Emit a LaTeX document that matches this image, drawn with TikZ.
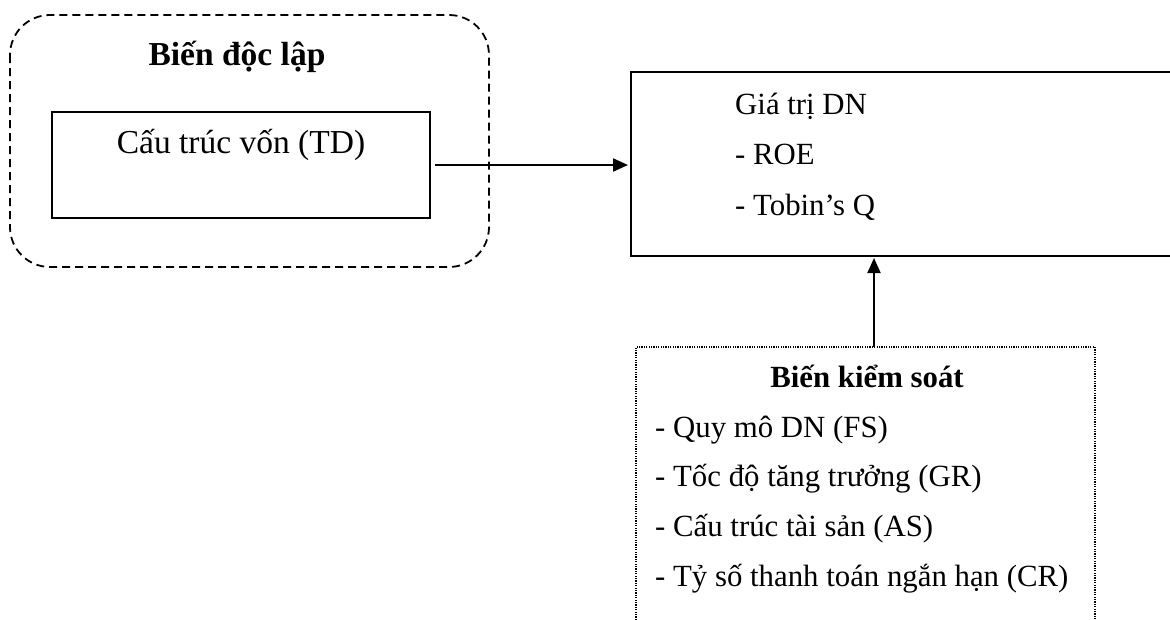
\documentclass[tikz,border=0pt]{standalone}
\usepackage{fontspec}
\setmainfont{Liberation Serif}
\usetikzlibrary{arrows.meta}
\tikzset{
  txt/.style={inner sep=0pt, anchor=base, font=\fontsize{33.5}{40}\selectfont},
  txts/.style={inner sep=0pt, anchor=base, font=\fontsize{30.8}{37}\selectfont},
  txtl/.style={txts, anchor=base west},
  boxs/.style={draw, line width=2pt, inner sep=0pt},
  dashbox/.style={draw, line width=1.8pt, dash pattern=on 8pt off 5pt, rounded corners=40pt},
  dotbox/.style={draw, line width=1.3pt, dash pattern=on 1.2pt off 1.2pt, inner sep=0pt},
  arr/.style={line width=2pt, -{Triangle[length=15pt,width=13pt]}}
}
\begin{document}
\begin{tikzpicture}[x=1pt,y=-1pt]
\useasboundingbox (0,0) rectangle (1170,619);
\clip (0,0) rectangle (1170,619);
\fill[white] (0,0) rectangle (1170,619);
% independent variable group
\draw[dashbox] (10,15) rectangle (489,267);
\node[txt, font=\fontsize{33.5}{40}\selectfont\bfseries] (bdl) at (237,65) {Biến độc lập};
\node[boxs, minimum width=378pt, minimum height=106pt] (tdbox) at (241,165) {};
\node[txt] (td) at (241,153) {Cấu trúc vốn (TD)};
% dependent
\node[boxs, minimum width=569pt, minimum height=184pt] (dn) at (915.5,164) {};
\node[txtl] (dn1) at (735,114) {Giá trị DN};
\node[txtl] (dn2) at (735,164) {- ROE};
\node[txtl] (dn3) at (735,215) {- Tobin’s Q};
% control variables
\node[dotbox, minimum width=459pt, minimum height=303pt] (ks) at (865.5,498.5) {};
\node[txts, font=\fontsize{30.8}{37}\selectfont\bfseries] (ksh) at (867,387) {Biến kiểm soát};
\node[txtl] (k1) at (655,437) {- Quy mô DN (FS)};
\node[txtl] (k2) at (655,486) {- Tốc độ tăng trưởng (GR)};
\node[txtl] (k3) at (655,536) {- Cấu trúc tài sản (AS)};
\node[txtl] (k4) at (655,586) {- Tỷ số thanh toán ngắn hạn (CR)};
% connectors
\draw[arr, shorten <=4pt, shorten >=2pt] (tdbox.east) -- (tdbox.east -| dn.west);
\coordinate (ka) at (874,347);
\draw[arr, shorten >=1pt] (ka) -- (ka |- dn.south);
\end{tikzpicture}
\end{document}
